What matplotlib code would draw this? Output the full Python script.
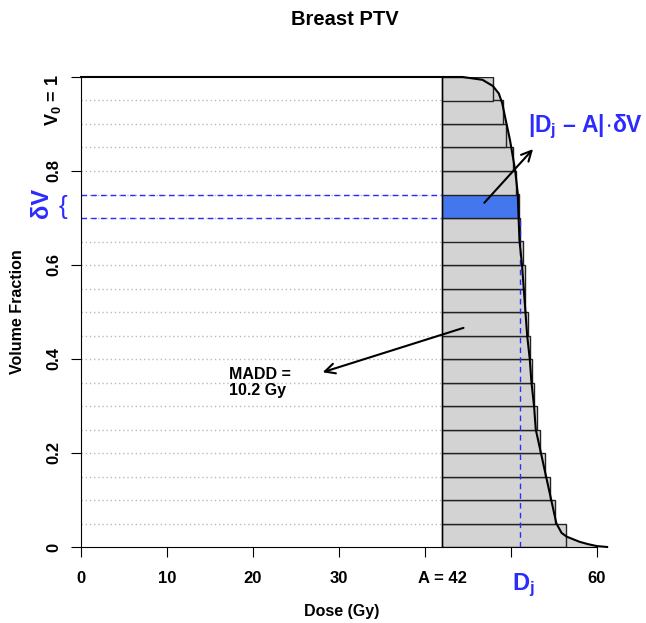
import numpy as np
import matplotlib
matplotlib.use('Agg')
import matplotlib.pyplot as plt

plt.rcParams['font.family'] = ['Liberation Sans', 'DejaVu Sans']
plt.rcParams['font.weight'] = 'bold'
plt.rcParams['axes.labelweight'] = 'bold'
plt.rcParams['mathtext.fontset'] = 'custom'
plt.rcParams['mathtext.rm'] = 'Liberation Sans:bold'
plt.rcParams['mathtext.bf'] = 'Liberation Sans:bold'
plt.rcParams['mathtext.it'] = 'Liberation Sans:bold'

# cumulative DVH
dvh_dose = [0, 44.4, 46.7, 47.9, 48.6, 49.0, 49.4, 49.9, 50.5, 50.8, 50.9, 51.0,
            51.3, 51.5, 51.7, 51.9, 52.2, 52.4, 52.7, 52.9, 53.5, 54.1, 54.7,
            55.3, 55.9, 56.5, 58.0, 59.0, 60.0, 61.2]
dvh_vol = [1, 1, 0.994, 0.981, 0.965, 0.944, 0.909, 0.866, 0.802, 0.753, 0.703, 0.653,
           0.60, 0.55, 0.50, 0.45, 0.40, 0.35, 0.30, 0.25, 0.20, 0.15, 0.10,
           0.05, 0.03, 0.022, 0.011, 0.006, 0.002, 0]

# mean dose per 0.05 volume bin, bottom bin first
bin_dv = 0.05
bin_dose = [56.4, 55.1, 54.5, 54.0, 53.4, 53.0, 52.7, 52.5, 52.2, 52.0,
            51.7, 51.6, 51.4, 51.1, 50.9, 50.6, 50.2, 49.4, 49.1, 47.9]
A = 42
Dj = 51.1
j_bin = 14  # the 0.70-0.75 bin

xticks = [0, 10, 20, 30, 40, 50, 60]
xticklabels = ['0', '10', '20', '30', '', '', '60']
yticks = [0, 0.2, 0.4, 0.6, 0.8, 1.0]
yticklabels = ['0', '0.2', '0.4', '0.6', '0.8', '']

gray = '#D3D3D3'
blue = '#2B2BFF'
band = '#4477EE'

fig = plt.figure(figsize=(6.46, 6.23), dpi=100)
ax = fig.add_axes([81/646, 76/623, 533/646, 470/623])
ax.set_xlim(0, 62)
ax.set_ylim(0, 1)

dose = np.array(dvh_dose)
vol = np.array(dvh_vol)

# dotted guide lines at each bin edge
levels = np.arange(1, 20) * bin_dv
ax.hlines(levels, 0, A, colors='#BBBBBB', linestyles=(0, (1, 2)), lw=1)

# area under the DVH right of A
ax.fill_betweenx(vol, A, np.maximum(dose, A), color=gray, lw=0)

centers = np.arange(len(bin_dose)) * bin_dv + bin_dv / 2
widths = np.array(bin_dose) - A
colors = [gray] * len(bin_dose)
colors[j_bin] = band
ax.barh(centers, widths, left=A, height=bin_dv, color=colors,
        edgecolor='#222222', lw=1)
ax.vlines(A, 0, 1, colors='black', lw=1)

ax.plot(dose, vol, color='black', lw=1.5, clip_on=False, zorder=5)

# blue markers for bin j
lo, hi = j_bin * bin_dv, (j_bin + 1) * bin_dv
ax.hlines([lo, hi], 0, A, colors=blue, linestyles=(0, (4, 3)), lw=1)
ax.vlines(Dj, 0, lo, colors=blue, linestyles=(0, (4, 3)), lw=1)

for s in ['top', 'right']:
    ax.spines[s].set_visible(False)
ax.spines['left'].set_bounds(0, 1)
ax.spines['bottom'].set_bounds(0, 60)

ax.set_xticks(xticks)
ax.set_xticklabels(xticklabels, fontsize=12)
ax.set_xticks([A, 51.5], minor=True)
ax.set_xticklabels(['A = 42', '$D_j$'], minor=True)
ax.tick_params(axis='x', which='major', length=7, pad=10.5)
ax.tick_params(axis='x', which='minor', length=0, pad=17.5)
mlabels = ax.get_xticklabels(minor=True)
mlabels[0].set_fontsize(12)
mlabels[1].set_fontsize(17)
mlabels[1].set_color(blue)

ax.set_yticks(yticks)
ax.set_yticklabels(yticklabels, fontsize=12, rotation=90, va='center')
ax.tick_params(axis='y', length=7, pad=7)
ax.text(-3.3, 1.005, '$V_0$ = 1', rotation=90, fontsize=13, ha='center', va='top',
        clip_on=False)

ax.text(-4.6, 0.732, 'δV', rotation=90, fontsize=17, color=blue,
        ha='center', va='center', clip_on=False)
ax.text(-2.1, 0.723, '{', fontsize=19, color=blue, fontweight='normal',
        ha='center', va='center', clip_on=False)

ax.set_ylabel('Volume Fraction', fontsize=11.5, va='center')
ax.yaxis.set_label_coords(-0.12, 0.5)
ax.set_xlabel('Dose (Gy)', fontsize=11.5, va='center')
ax.xaxis.set_label_coords(0.49, -0.138)
ax.text(0.495, 1.123, 'Breast PTV', transform=ax.transAxes, fontsize=14.5,
        ha='center', va='center')

ax.annotate('', xy=(52.8, 0.851), xytext=(46.7, 0.728),
            arrowprops=dict(arrowstyle='->', lw=1.5, mutation_scale=18, color='black'))
ax.text(58.7, 0.895, r'$|D_j$ – $A|\!\cdot\!\delta V$', fontsize=16.5, color=blue,
        ha='center', va='center', clip_on=False)

ax.annotate('', xy=(27.8, 0.370), xytext=(44.8, 0.468),
            arrowprops=dict(arrowstyle='->', lw=1.5, mutation_scale=18, color='black'))
ax.text(17.2, 0.350, 'MADD =\n10.2 Gy', fontsize=11.5, ha='left', va='center',
        linespacing=1.15)

fig.savefig('out.png', dpi=100)
